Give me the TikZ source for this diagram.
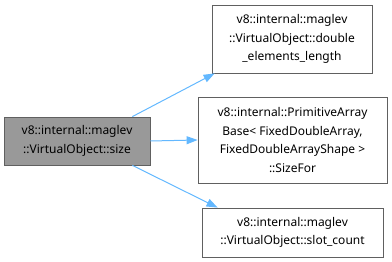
\documentclass[tikz,border=0pt]{standalone}
\usepackage{fontspec}
\setmainfont{Noto Sans}
\usetikzlibrary{arrows.meta,calc}
\begin{document}
\begin{tikzpicture}[x=1pt,y=1pt,
  box/.style={draw=gray!75!black, line width=0.8pt, fill=white, inner sep=0pt,
    align=center, font=\fontsize{12}{18.5}\selectfont},
  current/.style={box, fill=black!40},
  link/.style={draw={rgb,255:red,99;green,184;blue,255}, line width=1pt,
    -{Triangle[length=11pt,width=8pt]}}]
  \useasboundingbox (0,0) rectangle (392,262);
  % caller
  \node[current, minimum width=146pt, minimum height=48pt] (L) at (77,121)
    {v8::internal::maglev\\::VirtualObject::size};
  % callees
  \node[box, minimum width=160pt, minimum height=68pt] (A) at (292,223)
    {v8::internal::maglev\\::VirtualObject::double\\\_elements\_length};
  \node[box, minimum width=189pt, minimum height=86pt] (B) at (292.5,122)
    {v8::internal::PrimitiveArray\\Base< FixedDoubleArray,\\FixedDoubleArrayShape >\\::SizeFor};
  \node[box, minimum width=181pt, minimum height=49pt] (C) at (292.5,29.5)
    {v8::internal::maglev\\::VirtualObject::slot\_count};
  % calls
  \draw[link] ($(L.north east)+(-18,0)$) -- ($(A.south west)+(3,0)$);
  \draw[link] (L.east) -- (B.west);
  \draw[link] ($(L.south east)+(-18,0)$) -- ($(C.north west)+(16,0)$);
\end{tikzpicture}
\end{document}
